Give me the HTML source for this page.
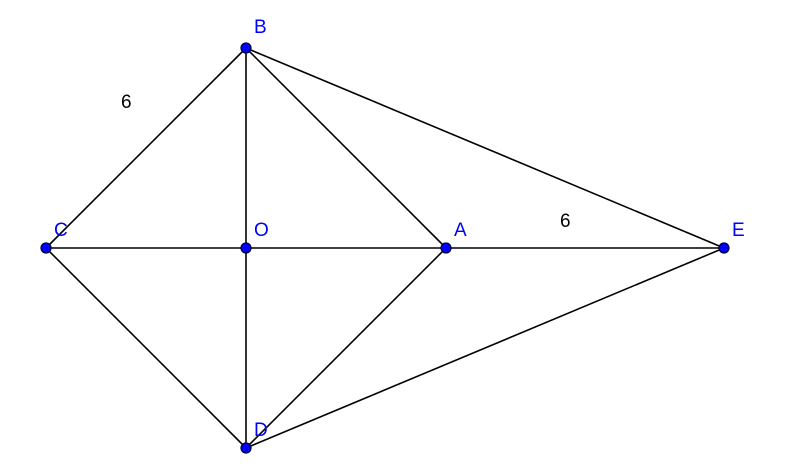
<!DOCTYPE html>
<html><head><meta charset="utf-8"><style>
html,body{margin:0;padding:0;background:#fff;}
svg{display:block;}
</style></head><body>
<svg width="801" height="469" viewBox="0 0 801 469" xmlns="http://www.w3.org/2000/svg">
<g stroke="#000" stroke-width="1.6" fill="none">
<line x1="246" y1="48" x2="46" y2="248"/>
<line x1="246" y1="48" x2="246" y2="448"/>
<line x1="246" y1="48" x2="446" y2="248"/>
<line x1="246" y1="48" x2="724" y2="248"/>
<line x1="46" y1="248" x2="724" y2="248"/>
<line x1="46" y1="248" x2="246" y2="448"/>
<line x1="446" y1="248" x2="246" y2="448"/>
<line x1="724" y1="248" x2="246" y2="448"/>
</g>
<g fill="#0000ff" stroke="#000033" stroke-width="1.2">
<circle cx="246" cy="48" r="5"/>
<circle cx="46" cy="248" r="5"/>
<circle cx="246" cy="248" r="5"/>
<circle cx="446" cy="248" r="5"/>
<circle cx="724" cy="248" r="5"/>
<circle cx="246" cy="448" r="5"/>
</g>
<g font-family="Liberation Sans, sans-serif" font-size="19" fill="#0000ff">
<text x="254" y="33">B</text>
<text x="54" y="236">C</text>
<text x="254" y="236">O</text>
<text x="454" y="236">A</text>
<text x="732" y="236">E</text>
<text x="254" y="436">D</text>
</g>
<g font-family="Liberation Sans, sans-serif" font-size="19" fill="#000">
<text x="121" y="108">6</text>
<text x="560" y="227">6</text>
</g>
</svg>
</body></html>
